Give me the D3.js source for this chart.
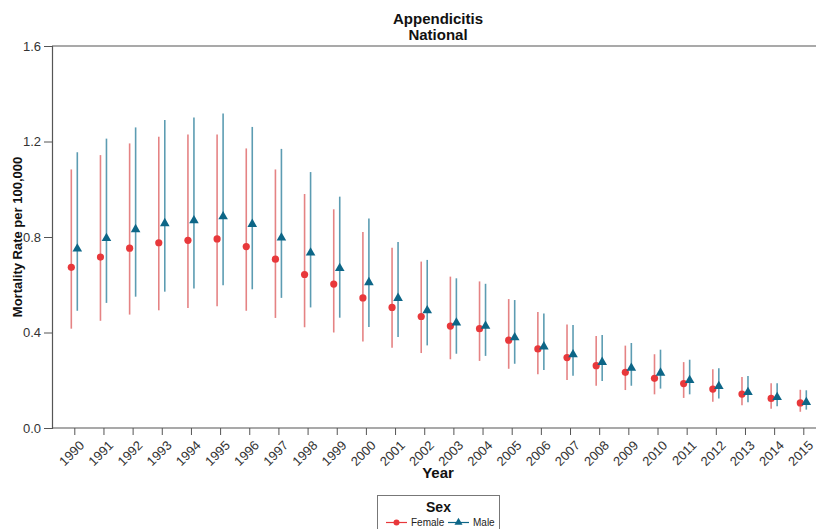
<!DOCTYPE html>
<html>
<head>
<meta charset="utf-8">
<script src="https://cdn.jsdelivr.net/npm/d3@7"></script>
<style>
  body { margin: 0; background: #fff; }
  svg { font-family: "Liberation Sans", Arial, sans-serif; }
  .tick text { fill: #333; font-size: 13px; }
</style>
</head>
<body>
<svg id="chart" width="816" height="529"></svg>
<script>
const years = d3.range(1990, 2016)
const femaleRate = [0.673, 0.716, 0.753, 0.776, 0.786, 0.792, 0.760, 0.707, 0.643, 0.603, 0.545, 0.505, 0.467, 0.427, 0.416, 0.368, 0.331, 0.295, 0.261, 0.233, 0.208, 0.186, 0.163, 0.142, 0.124, 0.105]
const femaleLow = [0.416, 0.449, 0.475, 0.493, 0.503, 0.510, 0.491, 0.461, 0.422, 0.400, 0.362, 0.336, 0.314, 0.288, 0.281, 0.248, 0.225, 0.201, 0.177, 0.159, 0.141, 0.126, 0.110, 0.095, 0.081, 0.068]
const femaleHigh = [1.083, 1.143, 1.192, 1.220, 1.229, 1.229, 1.171, 1.083, 0.980, 0.916, 0.821, 0.755, 0.697, 0.634, 0.614, 0.540, 0.486, 0.433, 0.385, 0.345, 0.309, 0.276, 0.246, 0.214, 0.187, 0.160]
const maleRate = [0.753, 0.797, 0.834, 0.859, 0.871, 0.888, 0.856, 0.799, 0.736, 0.671, 0.612, 0.546, 0.494, 0.443, 0.429, 0.381, 0.343, 0.310, 0.278, 0.253, 0.233, 0.202, 0.177, 0.152, 0.131, 0.110]
const maleLow = [0.491, 0.524, 0.550, 0.571, 0.584, 0.598, 0.581, 0.545, 0.505, 0.462, 0.423, 0.381, 0.346, 0.311, 0.302, 0.269, 0.243, 0.219, 0.197, 0.177, 0.165, 0.141, 0.124, 0.108, 0.091, 0.077]
const maleHigh = [1.155, 1.212, 1.259, 1.290, 1.301, 1.317, 1.261, 1.169, 1.072, 0.969, 0.878, 0.779, 0.704, 0.627, 0.604, 0.536, 0.480, 0.431, 0.390, 0.356, 0.328, 0.286, 0.250, 0.218, 0.187, 0.158]
const yTicks = [0, 0.4, 0.8, 1.2, 1.6]

const series = [
    { name: "Female", rate: femaleRate, low: femaleLow, high: femaleHigh, offset: -3, color: "#e8383b", bar: "#e06d6f", shape: "circle" },
    { name: "Male", rate: maleRate, low: maleLow, high: maleHigh, offset: 3, color: "#0d6687", bar: "#3f8ba5", shape: "triangle" },
]

const svg = d3.select("#chart")
const margin = { top: 46, right: -8, bottom: 101, left: 52 }
const width = +svg.attr("width") - margin.left - margin.right
const height = +svg.attr("height") - margin.top - margin.bottom

const x = d3.scaleLinear().domain([1990, 2015]).range([22.3, 751.3])
const y = d3.scaleLinear().domain([0, 1.6]).range([height, 0])

const g = svg.append("g").attr("transform", "translate(" + margin.left + "," + margin.top + ")")

// title
svg.append("text").attr("x", 438).attr("y", 24).attr("text-anchor", "middle")
    .style("font-weight", "bold").style("font-size", "15px").attr("fill", "#111").text("Appendicitis")
svg.append("text").attr("x", 438).attr("y", 40).attr("text-anchor", "middle")
    .style("font-weight", "bold").style("font-size", "15px").attr("fill", "#111").text("National")

// top border
g.append("line").attr("x1", 0).attr("x2", width).attr("y1", 0).attr("y2", 0)
    .attr("stroke", "#555").attr("stroke-width", 1.2)

// y axis
const yAxis = g.append("g").call(d3.axisLeft(y).tickValues(yTicks).tickFormat(d3.format(".1f")).tickSize(8).tickPadding(3))
yAxis.select(".domain").attr("stroke", "#555").attr("stroke-width", 1.2)
yAxis.selectAll(".tick line").attr("stroke", "#555")

// x axis
const xAxis = g.append("g").attr("transform", "translate(0," + height + ")")
    .call(d3.axisBottom(x).tickValues(years).tickFormat(d3.format("d")).tickSize(7).tickSizeOuter(0))
xAxis.select(".domain").attr("stroke", "#555").attr("stroke-width", 1.2).attr("d", "M0,0H" + width)
xAxis.selectAll(".tick line").attr("stroke", "#555")
xAxis.selectAll(".tick text")
    .attr("text-anchor", "end")
    .attr("dy", "0.35em")
    .attr("transform", "translate(7,15) rotate(-45)")
    .attr("y", 0)

// axis titles
svg.append("text").attr("x", 438).attr("y", 478).attr("text-anchor", "middle")
    .style("font-weight", "bold").style("font-size", "15px").attr("fill", "#111").text("Year")
svg.append("text").attr("transform", "translate(22," + (margin.top + height / 2) + ") rotate(-90)")
    .attr("text-anchor", "middle").style("font-weight", "bold").style("font-size", "13px").attr("fill", "#111")
    .text("Mortality Rate per 100,000")

const tri = d3.symbol().type(d3.symbolTriangle).size(40)

series.forEach(s => {
    const pts = years.map((yr, i) => ({ yr, v: s.rate[i], lo: s.low[i], hi: s.high[i] }))
    const grp = g.append("g")
    grp.selectAll(".err").data(pts).enter().append("line")
        .attr("x1", d => x(d.yr) + s.offset).attr("x2", d => x(d.yr) + s.offset)
        .attr("y1", d => y(d.lo)).attr("y2", d => y(d.hi))
        .attr("stroke", s.bar).attr("stroke-width", 1.6).attr("stroke-opacity", 0.85)
    if (s.shape === "circle") {
        grp.selectAll(".pt").data(pts).enter().append("circle")
            .attr("cx", d => x(d.yr) + s.offset).attr("cy", d => y(d.v)).attr("r", 3.6)
            .attr("fill", s.color)
    } else {
        grp.selectAll(".pt").data(pts).enter().append("path")
            .attr("d", tri).attr("transform", d => "translate(" + (x(d.yr) + s.offset) + "," + (y(d.v) + 0.5) + ")")
            .attr("fill", s.color)
    }
})

// legend
const lg = svg.append("g").attr("transform", "translate(377.5,495.5)")
lg.append("rect").attr("width", 122).attr("height", 40).attr("fill", "#fff").attr("stroke", "#777")
lg.append("text").attr("x", 61).attr("y", 16).attr("text-anchor", "middle")
    .style("font-weight", "bold").style("font-size", "14px").attr("fill", "#111").text("Sex")
const entries = lg.selectAll(".entry").data(series).enter().append("g")
    .attr("transform", (d, i) => "translate(" + (i === 0 ? 8.5 : 70.5) + ",27)")
entries.append("line").attr("x1", 0).attr("x2", 21).attr("stroke", d => d.color).attr("stroke-width", 1.2)
entries.filter(d => d.shape === "circle").append("circle").attr("cx", 10.5).attr("r", 3).attr("fill", d => d.color)
entries.filter(d => d.shape === "triangle").append("path").attr("d", d3.symbol().type(d3.symbolTriangle).size(28))
    .attr("transform", "translate(10.5,0)").attr("fill", d => d.color)
entries.append("text").attr("x", 25).attr("y", 3.5)
    .style("font-size", "10px").attr("fill", "#222").text(d => d.name)
</script>
</body>
</html>
